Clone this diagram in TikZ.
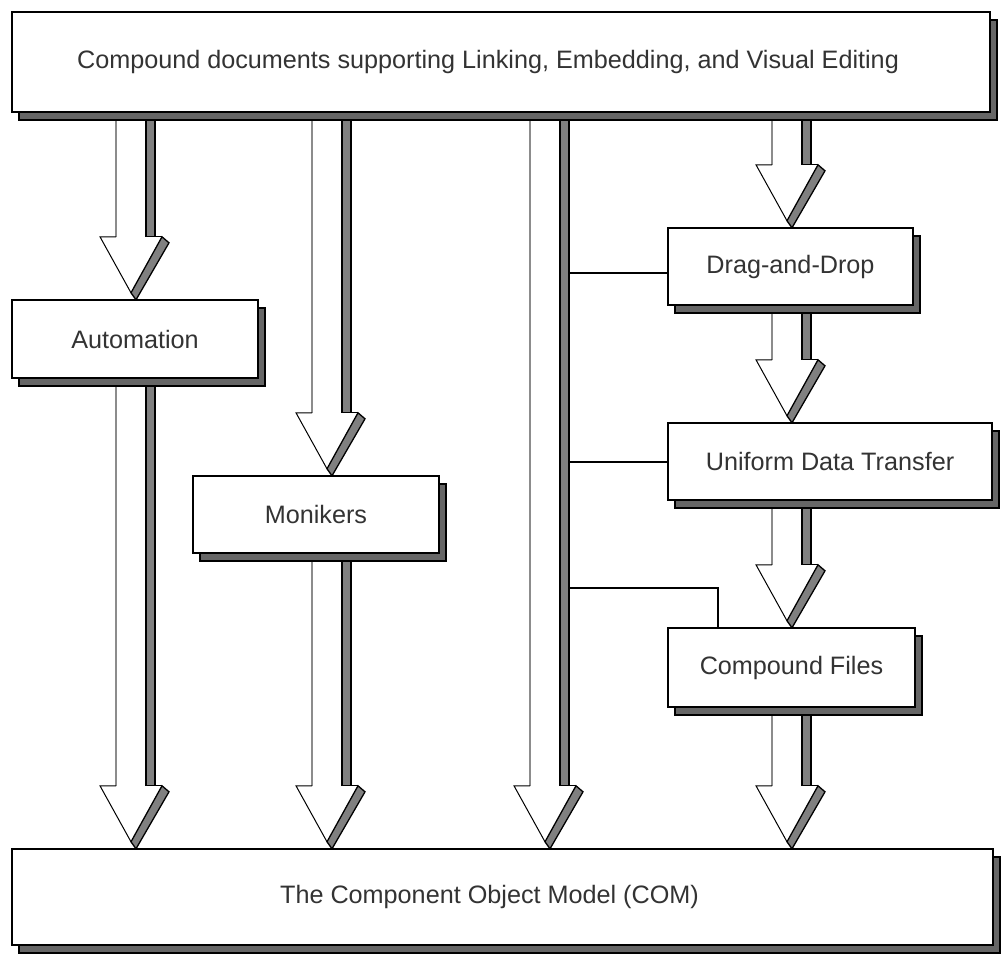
\documentclass[tikz,border=0pt]{standalone}
\usepackage{fontspec}
\setmainfont{Liberation Sans}
\usetikzlibrary{shadows}

% Hollow block arrow with a shaded right-hand edge.
% #1 = x of the arrow's axis, #2 = source node, #3 = target node
\newcommand\hollowarrow[3]{%
  \coordinate (ha-s) at (#2.south -| #1,0);
  \coordinate (ha-t) at (#3.north -| #1,0);
  \fill[white] ([shift={(-15,0)}]ha-s) -- ([shift={(-15,-63)}]ha-t)
    -- ([shift={(-31,-63)}]ha-t) -- ([shift={(0,-7)}]ha-t)
    -- ([shift={(31,-63)}]ha-t) -- ([shift={(15,-63)}]ha-t)
    -- ([shift={(15,0)}]ha-s) -- cycle;
  \draw[shaftedge] ([shift={(-15,0)}]ha-s) -- ([shift={(-15,-63)}]ha-t);
  \draw[shadebar] ([shift={(15,0)}]ha-s) rectangle ([shift={(24,-63)}]ha-t);
  \draw[headline] ([shift={(-15,-63)}]ha-t) -- ([shift={(-31,-63)}]ha-t)
    -- ([shift={(0,-7)}]ha-t);
  \draw[headline] ([shift={(24,-63)}]ha-t) -- ([shift={(31,-63)}]ha-t);
  \draw[shadebar] ([shift={(31,-63)}]ha-t) -- ([shift={(38,-57)}]ha-t)
    -- ([shift={(5,0)}]ha-t) -- ([shift={(0,-7)}]ha-t) -- cycle;
}

\begin{document}
\begin{tikzpicture}[x=1pt,y=-1pt,
  box/.style={draw=black, line width=2.4pt, fill=white, rectangle, inner sep=0,
    font=\fontsize{25.2}{29}\selectfont, text=black!80,
    general shadow={shadow xshift=7pt, shadow yshift=-8pt,
      fill=black!60, draw=black, line width=1.6pt}},
  shaftedge/.style={draw=black!45, line width=1.3pt},
  shadebar/.style={fill=black!50, draw=black, line width=1.3pt, line join=miter},
  headline/.style={draw=black, line width=1pt, line join=miter},
  link/.style={draw=black, line width=2pt}]
\useasboundingbox (0,0) rectangle (1005,955);

% boxes are placed first (invisible) so that arrows can refer to them
\path
  (501,62)     node[minimum width=978, minimum height=100, inner sep=0] (top) {}
  (135,339)    node[minimum width=246, minimum height=78, inner sep=0] (auto) {}
  (316,514.5)  node[minimum width=246, minimum height=77, inner sep=0] (mon) {}
  (790.5,266.5) node[minimum width=245, minimum height=77, inner sep=0] (drag) {}
  (830,461.5)  node[minimum width=324, minimum height=77, inner sep=0] (udt) {}
  (791.5,667.5) node[minimum width=247, minimum height=79, inner sep=0] (cf) {}
  (502.5,897)  node[minimum width=981, minimum height=96, inner sep=0] (com) {};

% block arrows
\hollowarrow{131}{top}{auto}
\hollowarrow{131}{auto}{com}
\hollowarrow{327}{top}{mon}
\hollowarrow{327}{mon}{com}
\hollowarrow{545}{top}{com}
\hollowarrow{787}{top}{drag}
\hollowarrow{787}{drag}{udt}
\hollowarrow{787}{udt}{cf}
\hollowarrow{787}{cf}{com}

% branches from the central arrow
\coordinate (spine) at (570,0);
\draw[link] (spine |- 0,273) -- (drag.west |- 0,273);
\draw[link] (spine |- udt.west) -- (udt.west);
\draw[link] (spine |- 0,588) -| ([xshift=-74pt]cf.north);

% boxes (the wide boxes set their text a little left of centre)
\node[box, minimum width=978, minimum height=100] at (top)
  {\hspace*{-26pt}Compound documents supporting Linking, Embedding, and Visual Editing};
\node[box, minimum width=246, minimum height=78] at (auto) {Automation};
\node[box, minimum width=246, minimum height=77] at (mon) {Monikers};
\node[box, minimum width=245, minimum height=77] at (drag) {Drag-and-Drop};
\node[box, minimum width=324, minimum height=77] at (udt) {Uniform Data Transfer};
\node[box, minimum width=247, minimum height=79] at (cf) {Compound Files};
\node[box, minimum width=981, minimum height=96] at (com)
  {\hspace*{-26pt}The Component Object Model (COM)};
\end{tikzpicture}
\end{document}
